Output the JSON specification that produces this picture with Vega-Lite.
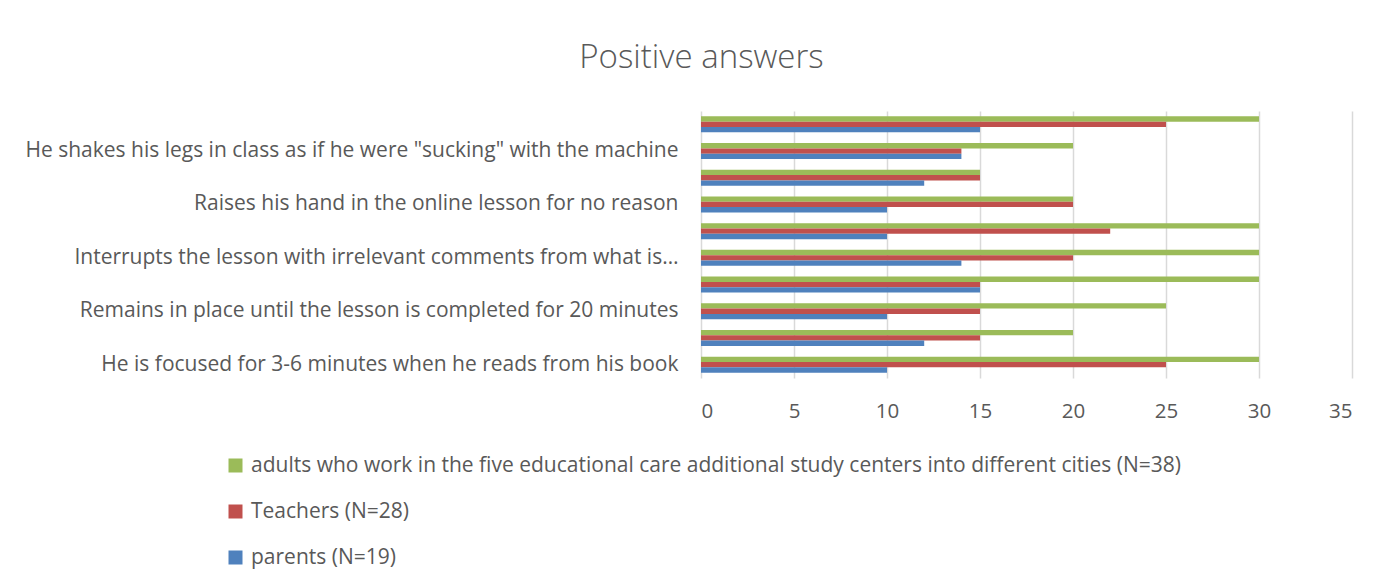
{
  "$schema": "https://vega.github.io/schema/vega-lite/v6.json",
  "width": 651,
  "height": 267,
  "autosize": {"type": "none"},
  "padding": {"left": 701, "top": 111, "right": 30, "bottom": 205},
  "title": {
    "text": "Positive answers",
    "fontSize": 33,
    "font": "Open Sans",
    "fontWeight": 300,
    "color": "#595959",
    "anchor": "middle",
    "dx": -325,
    "offset": 36
  },
  "data": {
    "values": [
      {"q": "Q1", "series": "adults who work in the five educational care additional study centers into different cities (N=38)", "value": 30},
      {"q": "Q1", "series": "Teachers (N=28)", "value": 25},
      {"q": "Q1", "series": "parents (N=19)", "value": 15},
      {"q": "Q2", "series": "adults who work in the five educational care additional study centers into different cities (N=38)", "value": 20},
      {"q": "Q2", "series": "Teachers (N=28)", "value": 14},
      {"q": "Q2", "series": "parents (N=19)", "value": 14},
      {"q": "Q3", "series": "adults who work in the five educational care additional study centers into different cities (N=38)", "value": 15},
      {"q": "Q3", "series": "Teachers (N=28)", "value": 15},
      {"q": "Q3", "series": "parents (N=19)", "value": 12},
      {"q": "Q4", "series": "adults who work in the five educational care additional study centers into different cities (N=38)", "value": 20},
      {"q": "Q4", "series": "Teachers (N=28)", "value": 20},
      {"q": "Q4", "series": "parents (N=19)", "value": 10},
      {"q": "Q5", "series": "adults who work in the five educational care additional study centers into different cities (N=38)", "value": 30},
      {"q": "Q5", "series": "Teachers (N=28)", "value": 22},
      {"q": "Q5", "series": "parents (N=19)", "value": 10},
      {"q": "Q6", "series": "adults who work in the five educational care additional study centers into different cities (N=38)", "value": 30},
      {"q": "Q6", "series": "Teachers (N=28)", "value": 20},
      {"q": "Q6", "series": "parents (N=19)", "value": 14},
      {"q": "Q7", "series": "adults who work in the five educational care additional study centers into different cities (N=38)", "value": 30},
      {"q": "Q7", "series": "Teachers (N=28)", "value": 15},
      {"q": "Q7", "series": "parents (N=19)", "value": 15},
      {"q": "Q8", "series": "adults who work in the five educational care additional study centers into different cities (N=38)", "value": 25},
      {"q": "Q8", "series": "Teachers (N=28)", "value": 15},
      {"q": "Q8", "series": "parents (N=19)", "value": 10},
      {"q": "Q9", "series": "adults who work in the five educational care additional study centers into different cities (N=38)", "value": 20},
      {"q": "Q9", "series": "Teachers (N=28)", "value": 15},
      {"q": "Q9", "series": "parents (N=19)", "value": 12},
      {"q": "Q10", "series": "adults who work in the five educational care additional study centers into different cities (N=38)", "value": 30},
      {"q": "Q10", "series": "Teachers (N=28)", "value": 25},
      {"q": "Q10", "series": "parents (N=19)", "value": 10}
    ]
  },
  "mark": {"type": "bar"},
  "encoding": {
    "y": {
      "field": "q",
      "type": "nominal",
      "sort": ["Q1", "Q2", "Q3", "Q4", "Q5", "Q6", "Q7", "Q8", "Q9", "Q10"],
      "scale": {"paddingInner": 0.4, "paddingOuter": 0.2},
      "axis": {
        "title": null,
        "domain": false,
        "ticks": false,
        "grid": false,
        "labelPadding": 23,
        "labelFontSize": 21,
        "labelFont": "Open Sans",
        "labelColor": "#595959",
        "labelLimit": 800,
        "labelOverlap": false,
        "labelExpr": "datum.value == 'Q2' ? 'He shakes his legs in class as if he were \"sucking\" with the machine' : datum.value == 'Q4' ? 'Raises his hand in the online lesson for no reason' : datum.value == 'Q6' ? 'Interrupts the lesson with irrelevant comments from what is…' : datum.value == 'Q8' ? 'Remains in place until the lesson is completed for 20 minutes' : datum.value == 'Q10' ? 'He is focused for 3-6 minutes when he reads from his book' : ''"
      }
    },
    "yOffset": {
      "field": "series",
      "type": "nominal",
      "sort": ["adults who work in the five educational care additional study centers into different cities (N=38)", "Teachers (N=28)", "parents (N=19)"]
    },
    "x": {
      "field": "value",
      "type": "quantitative",
      "scale": {"domain": [0, 35], "nice": false},
      "axis": {
        "title": null,
        "values": [0, 5, 10, 15, 20, 25, 30, 35],
        "domain": false,
        "ticks": false,
        "gridColor": "#D9D9D9",
        "gridWidth": 1.5,
        "labelPadding": 23,
        "labelFontSize": 20.5,
        "labelFont": "Open Sans",
        "labelColor": "#595959"
      }
    },
    "color": {
      "field": "series",
      "type": "nominal",
      "sort": ["adults who work in the five educational care additional study centers into different cities (N=38)", "Teachers (N=28)", "parents (N=19)"],
      "scale": {
        "domain": ["adults who work in the five educational care additional study centers into different cities (N=38)", "Teachers (N=28)", "parents (N=19)"],
        "range": ["#9BBB59", "#C0504D", "#4F81BD"]
      },
      "legend": {
        "title": null,
        "orient": "none",
        "legendX": -476,
        "legendY": 344,
        "direction": "vertical",
        "symbolType": "square",
        "symbolSize": 196,
        "symbolStrokeWidth": 0,
        "labelFontSize": 21,
        "labelFont": "Open Sans",
        "labelColor": "#595959",
        "labelLimit": 1100,
        "rowPadding": 24,
        "labelOffset": 5
      }
    }
  },
  "config": {
    "view": {"stroke": null},
    "bar": {"stroke": null}
  }
}
